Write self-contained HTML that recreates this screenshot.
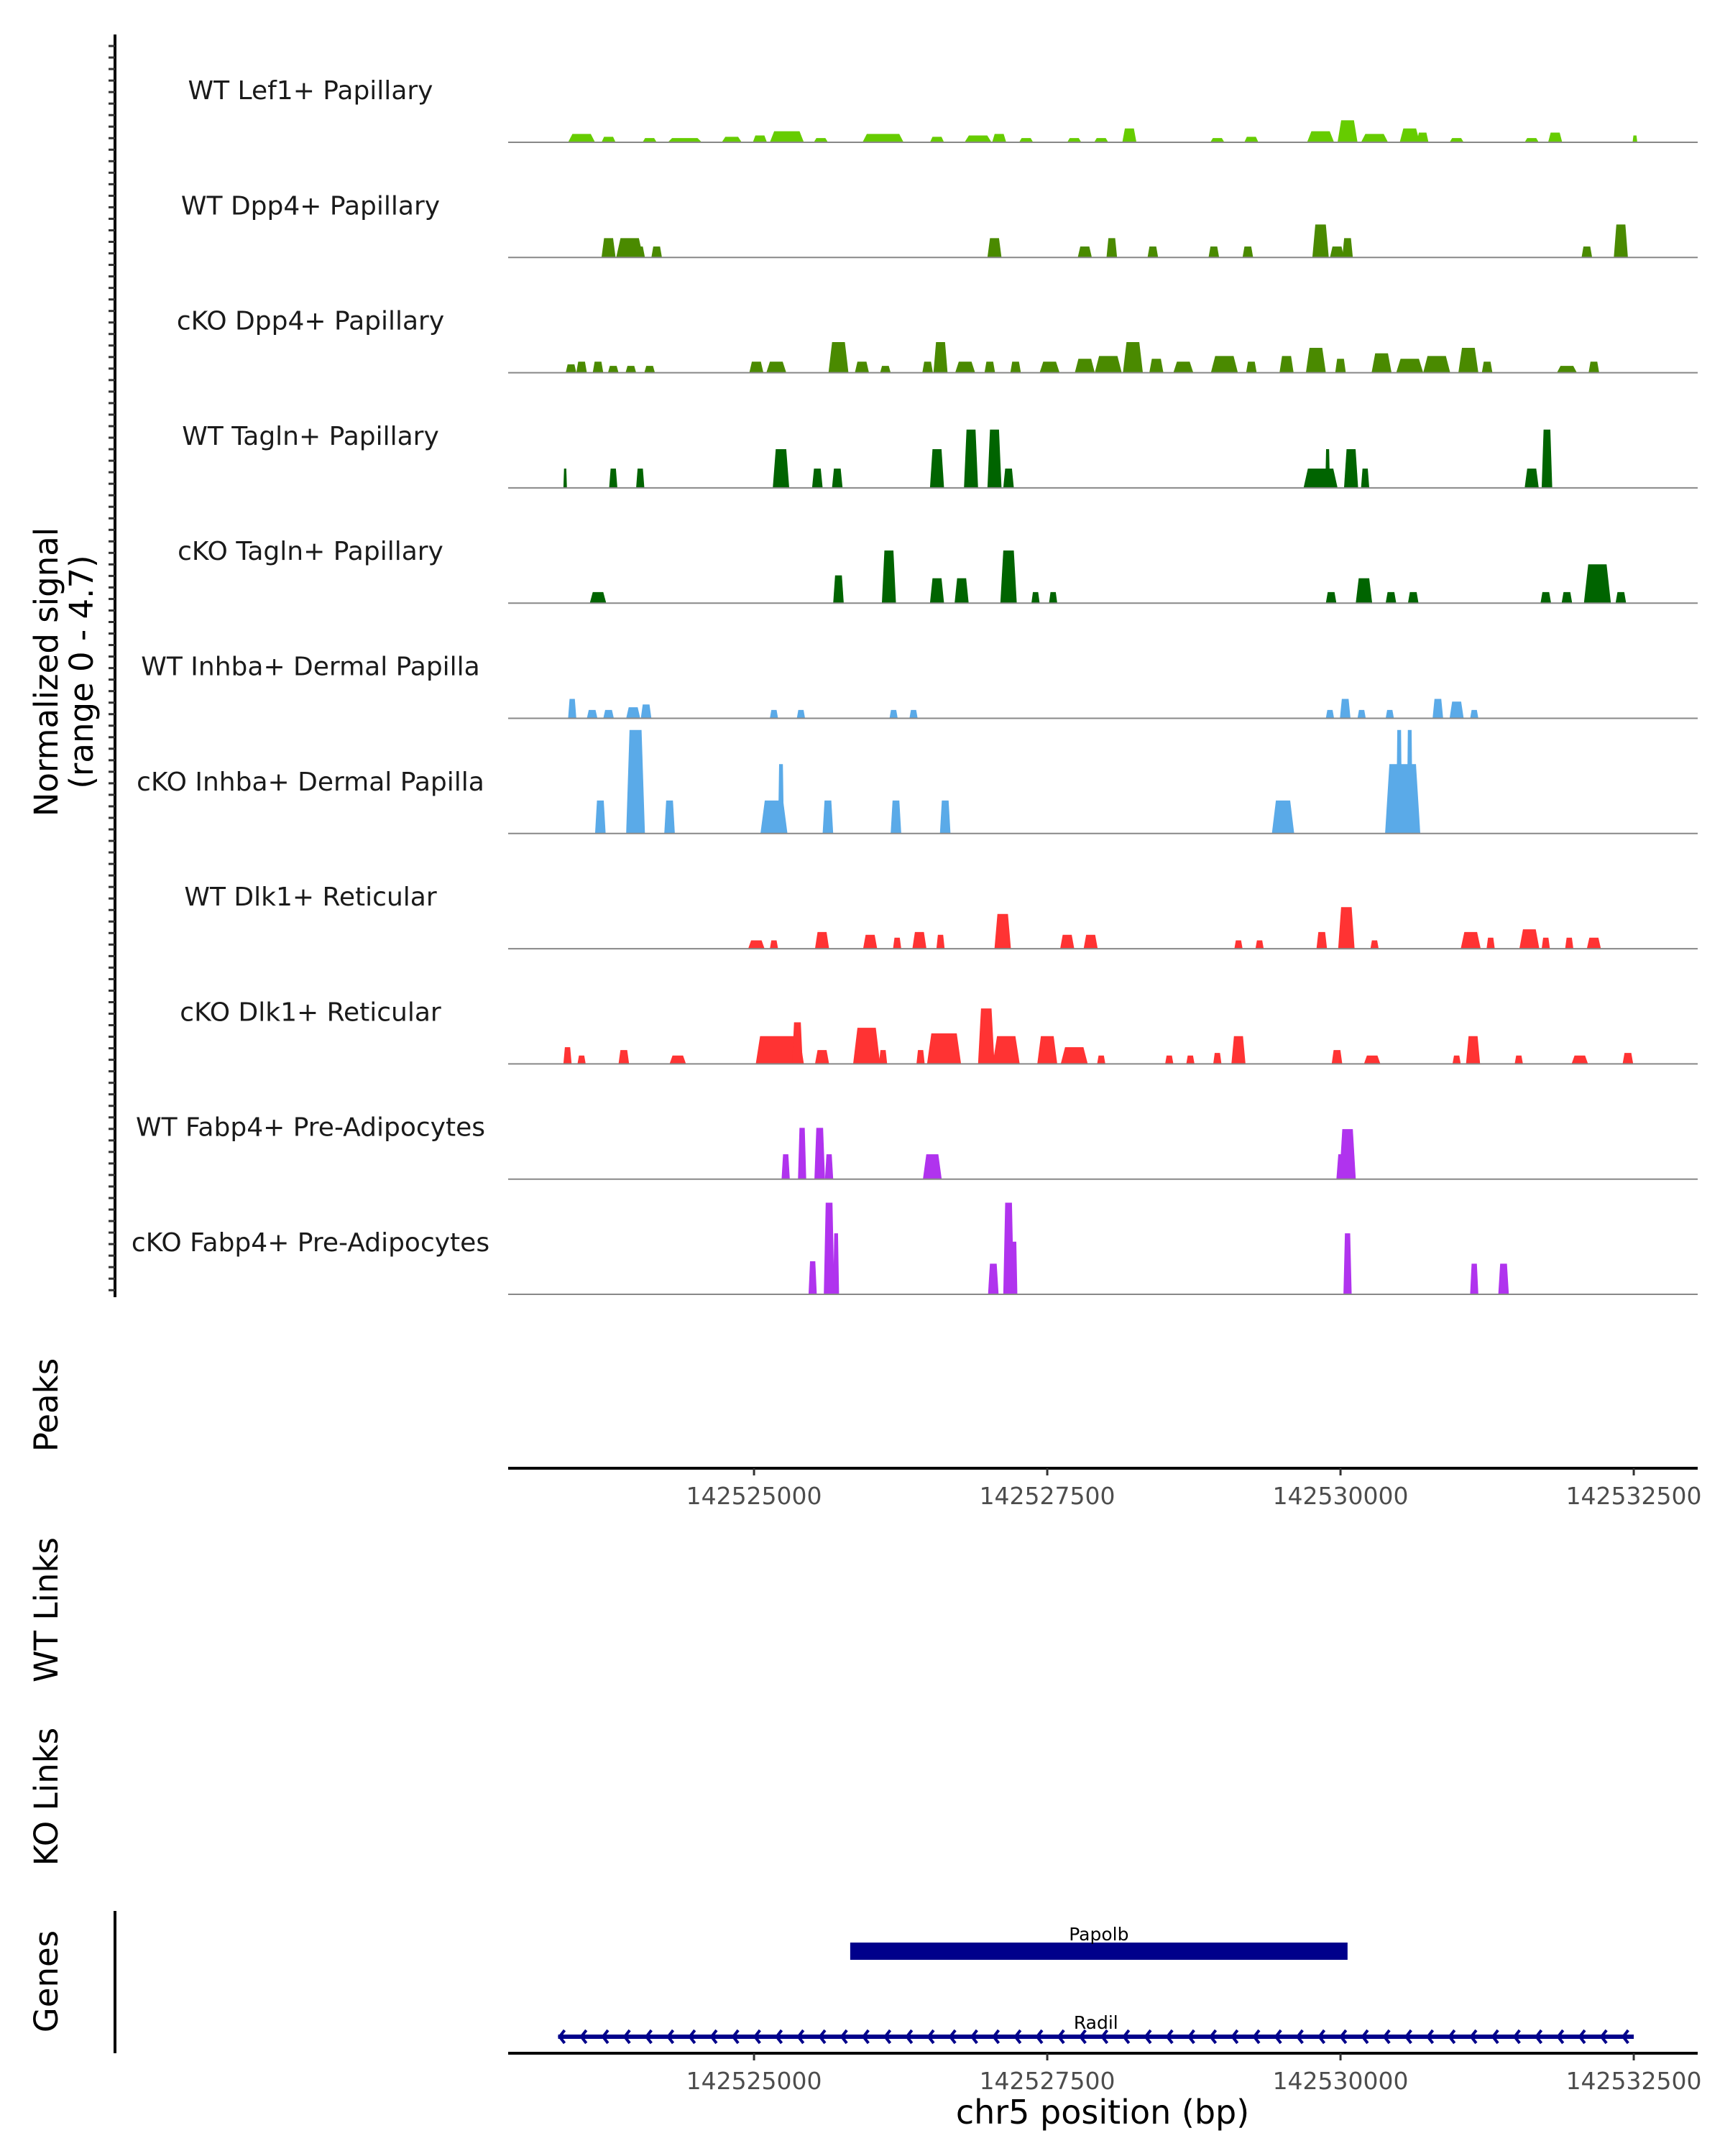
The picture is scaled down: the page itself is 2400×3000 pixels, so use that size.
<!DOCTYPE html>
<html><head><meta charset="utf-8">
<style>
html,body{margin:0;padding:0;background:#fff;}
svg{display:block;font-family:"DejaVu Sans","Liberation Sans",sans-serif;}
</style></head>
<body>
<svg id="chart" width="2400" height="3000" viewBox="0 0 2400 3000" xmlns="http://www.w3.org/2000/svg">
<g id="ylabels">
<text transform="translate(80,935) rotate(-90)" text-anchor="middle" font-size="45" fill="#000">Normalized signal</text>
<text transform="translate(129,935) rotate(-90)" text-anchor="middle" font-size="45" fill="#000">(range 0 - 4.7)</text>
<text transform="translate(80,1955) rotate(-90)" text-anchor="middle" font-size="45" fill="#000">Peaks</text>
<text transform="translate(80,2240) rotate(-90)" text-anchor="middle" font-size="45" fill="#000">WT Links</text>
<text transform="translate(80,2500) rotate(-90)" text-anchor="middle" font-size="45" fill="#000">KO Links</text>
<text transform="translate(80,2757) rotate(-90)" text-anchor="middle" font-size="45" fill="#000">Genes</text>
</g>
<line x1="160" y1="48" x2="160" y2="1805" stroke="#000" stroke-width="4"/>
<line x1="160" y1="2659" x2="160" y2="2857" stroke="#000" stroke-width="4"/>
<g id="ticks"></g>
<g id="tracks"></g>
<g id="axes"></g>
<g id="genes"></g>
<text x="1534" y="2955" text-anchor="middle" font-size="46" fill="#000">chr5 position (bp)</text>
</svg>
<script>
const NS="http://www.w3.org/2000/svg";
const originKb=142520; // positions below are kb offsets from 142520000
const trackNames=["WT Lef1+ Papillary","WT Dpp4+ Papillary","cKO Dpp4+ Papillary","WT Tagln+ Papillary","cKO Tagln+ Papillary","WT Inhba+ Dermal Papilla","cKO Inhba+ Dermal Papilla","WT Dlk1+ Reticular","cKO Dlk1+ Reticular","WT Fabp4+ Pre-Adipocytes","cKO Fabp4+ Pre-Adipocytes"];
const trackColors=["#66cc00","#4a8a00","#4a8a00","#006400","#006400","#5aaae8","#5aaae8","#ff3333","#ff3333","#b033ee","#b033ee"];
const xTicks=[142525000,142527500,142530000,142532500];
const xTickLabels=["142525000","142527500","142530000","142532500"];
// peaks: [centerKb, widthKb, value]
const peaksLef1WT=[[3.53,.23,.38],[3.76,.12,.25],[4.11,.12,.19],[4.41,.29,.19],[4.81,.17,.25],[5.05,.12,.31],[5.28,.29,.5],[5.57,.12,.19],[6.10,.35,.38],[6.56,.12,.25],[6.91,.23,.31],[7.09,.12,.38],[7.32,.12,.19],[7.73,.12,.19],[7.96,.12,.19],[8.20,.12,.63],[8.95,.12,.19],[9.24,.12,.25],[9.83,.23,.5],[10.06,.17,1.0],[10.29,.23,.38],[10.59,.17,.63],[10.70,.1,.44],[10.99,.12,.19],[11.63,.12,.19],[11.83,.12,.44],[12.51,.04,.31]];
const peaksDpp4WT=[[3.76,.12,.88],[3.94,.23,.88],[4.02,.1,.5],[4.17,.09,.5],[7.05,.12,.88],[7.82,.12,.5],[8.05,.09,.88],[8.40,.09,.5],[8.92,.09,.5],[9.21,.09,.5],[9.83,.14,1.5],[9.97,.12,.5],[10.06,.09,.88],[12.10,.09,.5],[12.39,.12,1.5]];
const peaksDpp4KO=[[3.44,.09,.38],[3.53,.09,.5],[3.67,.09,.5],[3.80,.09,.31],[3.95,.09,.31],[4.11,.09,.31],[5.02,.12,.5],[5.19,.17,.5],[5.72,.17,1.39],[5.92,.12,.5],[6.12,.09,.31],[6.48,.09,.5],[6.59,.12,1.39],[6.80,.17,.5],[7.01,.09,.5],[7.23,.09,.5],[7.52,.17,.5],[7.82,.17,.63],[8.02,.23,.76],[8.23,.17,1.39],[8.43,.12,.63],[8.66,.17,.5],[9.01,.23,.76],[9.24,.09,.5],[9.54,.12,.76],[9.79,.17,1.13],[10.0,.09,.63],[10.35,.17,.88],[10.59,.23,.63],[10.82,.23,.76],[11.09,.17,1.13],[11.25,.09,.5],[11.93,.17,.31],[12.16,.09,.5]];
const peaksTaglnWT=[[3.39,.03,.88],[3.80,.07,.88],[4.03,.07,.88],[5.23,.14,1.76],[5.54,.09,.88],[5.71,.09,.88],[6.56,.12,1.76],[6.85,.12,2.65],[7.05,.12,2.65],[7.17,.09,.88],[9.83,.29,.88],[9.89,.04,1.76],[10.09,.12,1.76],[10.21,.07,.88],[11.63,.12,.88],[11.76,.09,2.65]];
const peaksTaglnKO=[[3.67,.14,.5],[5.72,.09,1.26],[6.15,.12,2.39],[6.56,.12,1.13],[6.77,.12,1.13],[7.17,.14,2.39],[7.40,.07,.5],[7.55,.07,.5],[9.92,.09,.5],[10.2,.14,1.13],[10.43,.09,.5],[10.62,.09,.5],[11.75,.09,.5],[11.93,.09,.5],[12.19,.23,1.76],[12.39,.09,.5]];
const peaksInhbaWT=[[3.45,.07,.88],[3.62,.09,.38],[3.76,.09,.38],[3.97,.12,.5],[4.08,.09,.63],[5.17,.07,.38],[5.40,.07,.38],[6.19,.07,.38],[6.36,.07,.38],[9.91,.07,.38],[10.04,.09,.88],[10.18,.07,.38],[10.42,.07,.38],[10.83,.09,.88],[10.99,.12,.76],[11.14,.07,.38]];
const peaksInhbaKO=[[3.69,.09,1.5],[3.99,.16,4.7],[4.28,.09,1.5],[5.17,.23,1.5],[5.23,.05,3.15],[5.63,.09,1.5],[6.21,.09,1.5],[6.63,.09,1.5],[9.51,.19,1.5],[10.53,.3,3.15],[10.5,.05,4.7],[10.59,.05,4.7]];
const peaksDlk1WT=[[5.02,.14,.38],[5.17,.07,.38],[5.58,.12,.76],[5.99,.12,.63],[6.22,.07,.5],[6.41,.12,.76],[6.59,.07,.63],[7.12,.14,1.58],[7.67,.12,.63],[7.87,.12,.63],[9.13,.07,.38],[9.31,.07,.38],[9.84,.09,.76],[10.05,.14,1.89],[10.29,.07,.38],[11.11,.17,.76],[11.28,.07,.5],[11.61,.17,.88],[11.75,.07,.5],[11.95,.07,.5],[12.16,.12,.5]];
const peaksDlk1KO=[[3.41,.07,.76],[3.53,.07,.38],[3.89,.09,.63],[4.35,.14,.38],[5.22,.41,1.26],[5.37,.09,1.89],[5.58,.12,.63],[5.96,.23,1.64],[6.10,.07,.63],[6.42,.07,.63],[6.62,.29,1.39],[6.98,.14,2.52],[7.15,.23,1.26],[7.50,.17,1.26],[7.73,.23,.76],[7.96,.07,.38],[8.54,.07,.38],[8.72,.07,.38],[8.95,.07,.5],[9.13,.12,1.26],[9.97,.09,.63],[10.27,.14,.38],[10.99,.07,.38],[11.13,.12,1.26],[11.52,.07,.38],[12.04,.14,.38],[12.45,.09,.5]];
const peaksFabp4WT=[[5.27,.07,1.13],[5.41,.07,2.33],[5.56,.09,2.33],[5.64,.07,1.13],[6.52,.16,1.13],[10.06,.14,2.27],[10.01,.09,1.13]];
const peaksFabp4KO=[[5.50,.07,1.5],[5.64,.09,4.16],[5.70,.05,2.77],[7.04,.09,1.39],[7.17,.09,4.16],[7.22,.05,2.39],[10.06,.07,2.77],[11.14,.07,1.39],[11.39,.09,1.39]];
const trackPeaks=[peaksLef1WT,peaksDpp4WT,peaksDpp4KO,peaksTaglnWT,peaksTaglnKO,peaksInhbaWT,peaksInhbaKO,peaksDlk1WT,peaksDlk1KO,peaksFabp4WT,peaksFabp4KO];
const genePapolb=[142525820,142530060];
const geneRadil=[142523330,142532500];

const X0=707,X1=2362,dMin=142522904,dMax=142533045;
function xs(bp){return X0+(bp-dMin)/(dMax-dMin)*(X1-X0);}
function xk(kb){return xs((originKb+kb)*1000);}
function ys(v,base){return base-v/4.7*144;}
const firstBase=198,trackStep=160.3;

const tg=document.getElementById('tracks');
trackNames.forEach((name,i)=>{
  const base=firstBase+i*trackStep;
  const g=document.createElementNS(NS,'g');
  
  
  const t=document.createElementNS(NS,'text');
  
  
  t.setAttribute('x',432);t.setAttribute('y',base-60);
  t.setAttribute('text-anchor','middle');t.setAttribute('font-size','36');t.setAttribute('fill','#1a1a1a');
  t.textContent=name;g.appendChild(t);
  trackPeaks[i].forEach(p=>{
    const a=xk(p[0]-p[1]/2),b=xk(p[0]+p[1]/2),top=ys(p[2],base);
    const ins=Math.min((b-a)*0.18,6);
    const poly=document.createElementNS(NS,'polygon');
    
    
    poly.setAttribute('points',`${a},${base} ${a+ins},${top} ${b-ins},${top} ${b},${base}`);
    poly.setAttribute('fill',trackColors[i]);
    g.appendChild(poly);
  });
  const l=document.createElementNS(NS,'line');
  
  
  l.setAttribute('x1',X0);l.setAttribute('x2',X1);l.setAttribute('y1',base);l.setAttribute('y2',base);
  l.setAttribute('stroke','#888');l.setAttribute('stroke-width','2');
  g.appendChild(l);
  tg.appendChild(g);
});

const tk=document.getElementById('ticks');
for(let y=64;y<1800;y+=16.03){
  const l=document.createElementNS(NS,'line');
  
  
  l.setAttribute('x1',151);l.setAttribute('x2',160);l.setAttribute('y1',y);l.setAttribute('y2',y);
  l.setAttribute('stroke','#333');l.setAttribute('stroke-width','3');
  tk.appendChild(l);
}

const ax=document.getElementById('axes');
[2043,2857].forEach((y,k)=>{
  const l=document.createElementNS(NS,'line');
  
  
  l.setAttribute('x1',X0);l.setAttribute('x2',X1);l.setAttribute('y1',y);l.setAttribute('y2',y);
  l.setAttribute('stroke','#000');l.setAttribute('stroke-width','4');
  ax.appendChild(l);
  xTicks.forEach((v,j)=>{
    const x=xs(v);
    const t=document.createElementNS(NS,'line');
    
    
    t.setAttribute('x1',x);t.setAttribute('x2',x);t.setAttribute('y1',y);t.setAttribute('y2',y+10);
    t.setAttribute('stroke','#333');t.setAttribute('stroke-width','3');
    ax.appendChild(t);
    const tx=document.createElementNS(NS,'text');
    
    
    tx.setAttribute('x',x);tx.setAttribute('y',y+50);
    tx.setAttribute('text-anchor','middle');tx.setAttribute('font-size','33');tx.setAttribute('fill','#4d4d4d');
    tx.textContent=xTickLabels[j];
    ax.appendChild(tx);
  });
});

const gg=document.getElementById('genes');
const pr=document.createElementNS(NS,'rect');


pr.setAttribute('x',xs(genePapolb[0]));pr.setAttribute('y',2703);
pr.setAttribute('width',xs(genePapolb[1])-xs(genePapolb[0]));pr.setAttribute('height',24);
pr.setAttribute('fill','#00008b');
gg.appendChild(pr);
const pt=document.createElementNS(NS,'text');


pt.setAttribute('x',(xs(genePapolb[0])+xs(genePapolb[1]))/2);pt.setAttribute('y',2700);
pt.setAttribute('text-anchor','middle');pt.setAttribute('font-size','25');pt.textContent='Papolb';
gg.appendChild(pt);
const rl=document.createElementNS(NS,'line');


rl.setAttribute('x1',xs(geneRadil[0]));rl.setAttribute('x2',xs(geneRadil[1]));
rl.setAttribute('y1',2834);rl.setAttribute('y2',2834);rl.setAttribute('stroke','#00008b');rl.setAttribute('stroke-width','6');
gg.appendChild(rl);
for(let x=xs(geneRadil[0])+2;x<xs(geneRadil[1])-5;x+=30.2){
  const c=document.createElementNS(NS,'polyline');
  
  
  c.setAttribute('points',`${x+7},${2825} ${x},${2834} ${x+7},${2843}`);
  c.setAttribute('fill','none');c.setAttribute('stroke','#00008b');c.setAttribute('stroke-width','4');
  gg.appendChild(c);
}
const rt=document.createElementNS(NS,'text');


rt.setAttribute('x',(xs(geneRadil[0])+xs(geneRadil[1]))/2);rt.setAttribute('y',2823);
rt.setAttribute('text-anchor','middle');rt.setAttribute('font-size','25');rt.textContent='Radil';
gg.appendChild(rt);
</script>
</body></html>
